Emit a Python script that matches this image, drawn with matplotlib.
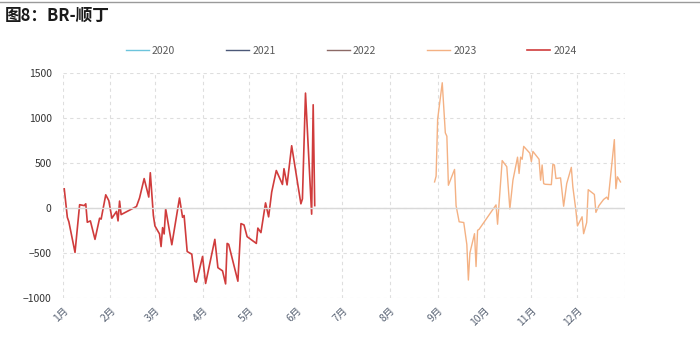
import matplotlib
matplotlib.use('Agg')
import matplotlib.pyplot as plt
import pandas as pd

plt.rcParams['font.family'] = ['Noto Sans CJK SC', 'DejaVu Sans']

# BR - butadiene spread, by month-day
dates_2024 = ['01-02', '01-04', '01-05', '01-09', '01-12', '01-15', '01-16', '01-17', '01-19', '01-22',
              '01-25', '01-26', '01-29', '01-31', '02-02', '02-05', '02-06', '02-07', '02-08', '02-18',
              '02-20', '02-23', '02-26', '02-27', '02-29', '03-01', '03-04', '03-05', '03-06', '03-07',
              '03-08', '03-12', '03-17', '03-19', '03-20', '03-22', '03-25', '03-27', '03-28', '04-01',
              '04-03', '04-09', '04-11', '04-14', '04-16', '04-17', '04-18', '04-24', '04-26', '04-28',
              '04-30', '05-06', '05-07', '05-09', '05-12', '05-14', '05-16', '05-19', '05-23', '05-24',
              '05-26', '05-29', '06-04', '06-05', '06-07', '06-11', '06-12', '06-13']
vals_2024 = [216, -100, -150, -490, 40, 30, 50, -155, -140, -345,
             -110, -120, 150, 85, -110, -35, -140, 80, -70, 20,
             115, 330, 125, 395, -80, -195, -285, -425, -215, -285,
             -5, -405, 115, -100, -80, -480, -510, -810, -820, -535,
             -835, -345, -660, -695, -840, -390, -400, -810, -170, -185,
             -315, -390, -220, -270, 60, -95, 180, 420, 265, 440,
             260, 695, 50, 105, 1280, -65, 1150, 30]

dates_2023 = ['08-30', '08-31', '09-01', '09-04', '09-06', '09-07', '09-08', '09-12', '09-13', '09-15',
              '09-18', '09-20', '09-21', '09-22', '09-25', '09-26', '09-27', '09-28', '10-09', '10-10',
              '10-13', '10-16', '10-18', '10-20', '10-23', '10-24', '10-25', '10-26', '10-27', '10-31',
              '11-01', '11-02', '11-06', '11-07', '11-08', '11-09', '11-10', '11-14', '11-15', '11-16',
              '11-17', '11-20', '11-22', '11-24', '11-27', '11-28', '11-30', '12-01', '12-04', '12-05',
              '12-07', '12-08', '12-12', '12-13', '12-15', '12-18', '12-20', '12-21', '12-25', '12-26',
              '12-27', '12-29']
vals_2023 = [293, 357, 989, 1395, 838, 801, 256, 432, 30, -150,
             -158, -402, -797, -496, -282, -647, -244, -233, 38, -177,
             530, 462, -8, 312, 568, 387, 568, 545, 688, 613,
             519, 632, 545, 312, 481, 274, 267, 263, 489, 481,
             331, 338, 23, 274, 455, 237, -26, -196, -94, -282,
             -158, 207, 154, -45, 30, 98, 124, 98, 763, 218,
             350, 293]

years = ['2020', '2021', '2022', '2023', '2024']
colors = ['#6cc4dc', '#4b5878', '#8c6a66', '#f4b183', '#d03c3c']
month_labels = [f'{m}月' for m in range(1, 13)]


def day_pos(md):
    # place every year on one leap-year calendar
    return (pd.to_datetime(['2024-' + d for d in md]).dayofyear - 1).tolist()


series = {'2020': ([], []), '2021': ([], []), '2022': ([], []),
          '2023': (day_pos(dates_2023), vals_2023),
          '2024': (day_pos(dates_2024), vals_2024)}

fig = plt.figure(figsize=(7, 3.57), dpi=100)
ax = fig.add_axes([0.0896, 0.1644, 0.8034, 0.6303])

for yr, col in zip(years, colors):
    x, y = series[yr]
    lw = 1.2 if yr == '2024' else 1.0
    ax.plot(x, y, color=col, lw=lw, label=yr)

month_starts = (pd.date_range('2024-01-01', periods=12, freq='MS').dayofyear - 1).tolist()
ax.set_xlim(0, 366)
ax.set_ylim(-1000, 1500)
ax.set_xticks(month_starts)
ax.set_xticklabels(month_labels, rotation=45, ha='right', va='top',
                   rotation_mode='anchor', fontsize=7.5, color='#5a6475')
ax.set_yticks(range(-1000, 1501, 500))
ax.tick_params(axis='y', labelsize=7.5, labelcolor='#333333', length=0, pad=8)
ax.tick_params(axis='x', length=0, pad=5)

ax.grid(True, color='#dedede', ls=(0, (3, 3)), lw=0.8)
ax.axvline(366, color='#dedede', ls=(0, (3, 3)), lw=0.8)
ax.axhline(0, color='#d9d9d9', lw=1.0)
for s in ax.spines.values():
    s.set_visible(False)

fig.legend(loc='center', bbox_to_anchor=(0.502, 0.857), ncol=5, frameon=False,
           fontsize=7.5, handlelength=2.2, handletextpad=0.3, columnspacing=4.9,
           labelcolor='#595959')

fig.text(0.007, 0.957, '图8：BR-顺丁', fontsize=12, fontweight='bold', va='center', color='#1a1a1a')
fig.add_artist(plt.Line2D([0, 1], [0.993, 0.993], color='#9a9a9a', lw=1.0))

fig.savefig('out.png', dpi=100)
